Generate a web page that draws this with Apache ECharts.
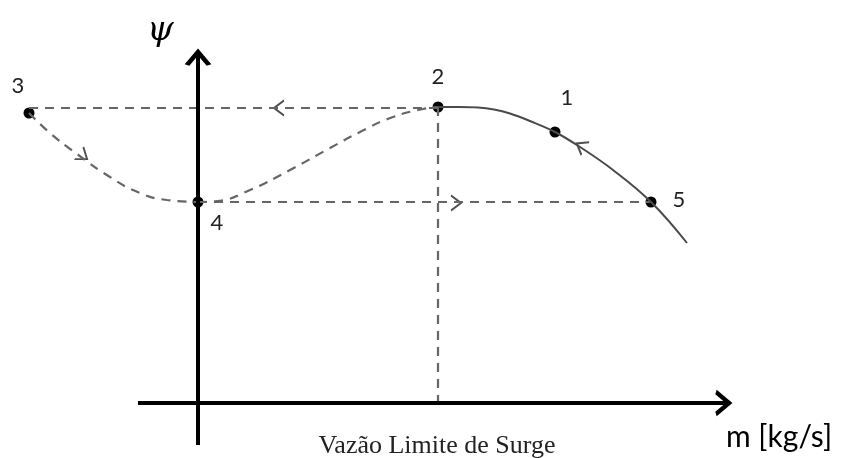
<!DOCTYPE html>
<html>
<head>
<meta charset="utf-8">
<script src="https://cdn.jsdelivr.net/npm/echarts@6/dist/echarts.min.js"></script>
<style>
  html, body { margin: 0; padding: 0; background: #fff; }
  #chart { width: 841px; height: 458px; }
</style>
</head>
<body>
<div id="chart"></div>
<script>
// Compressor surge cycle: operating points on the ψ–ṁ map
const pointNames = ['1', '2', '3', '4', '5'];
const pointFlow  = [35.7, 24.0, -16.9, 0.0, 45.3];
const pointHead  = [27.1, 29.6, 29.0, 20.1, 20.1];

// Compressor characteristic (solid curve) from 2 through 1 and 5
const charFlow = [24.0, 26.0, 28.0, 29.6, 31.2, 33.2, 35.7, 38.2, 41.5, 45.3, 48.9];
const charHead = [29.6, 29.6, 29.55, 29.35, 28.95, 28.2, 27.1, 25.6, 23.3, 20.1, 16.0];

// Transient path 3 → 4 (dashed)
const dropFlow = [-16.9, -14.8, -12.1, -8.8, -5.8, -3.1, 0.0];
const dropHead = [29.0, 27.0, 24.9, 22.6, 21.0, 20.3, 20.1];

// Recovery path 4 → 2 (dashed)
const riseFlow = [0.0, 1.9, 5.2, 9.2, 13.2, 16.2, 19.5, 22.5, 24.0];
const riseHead = [20.1, 20.2, 21.3, 23.3, 25.5, 27.1, 28.6, 29.4, 29.6];

// Jumps between levels: 2 → 3 at constant head, 4 → 5 at constant head
const upperJump = { from: -16.9, to: 24.0, head: 29.5 };
const lowerJump = { from: 0.0, to: 45.3, head: 20.1 };
const surgeFlow = 24.0;   // surge-limit flow (vertical dashed line)

// Axis extents
const xAxisFrom = -6.0, xAxisTo = 53.1;
const yAxisFrom = -4.2, yAxisTo = 35.1;

// Direction markers along the cycle: [flow, head, rotation°]
const arrowFlow = [8.1, 25.8, 38.3, -11.5];
const arrowHead = [29.5, 20.0, 25.7, 24.7];
const arrowRot  = [180, 0, 149, -36];

const zip = (xs, ys) => xs.map((x, i) => [x, ys[i]]);
const chevron = 'path://M0,0L10,5L0,10';

const dashGrey = { color: '#666666', width: 2.2, type: [9, 7] };
const labelFont = 'Lato, "Open Sans", sans-serif';

const labelOffsets = [[12, -34], [0, -30], [-11, -27], [19, 21], [28, -2]];

const chart = echarts.init(document.getElementById('chart'), null, { renderer: 'canvas' });

chart.setOption({
  animation: false,
  backgroundColor: '#ffffff',
  grid: { left: 0, right: 0, top: 0, bottom: 0 },
  xAxis: { type: 'value', min: -19.8, max: 64.3, show: false },
  yAxis: { type: 'value', min: -5.5, max: 40.3, show: false },
  series: [
    // dashed construction lines
    {
      type: 'line', symbol: 'none', silent: true,
      data: [[upperJump.from, upperJump.head], [upperJump.to, upperJump.head]],
      lineStyle: dashGrey
    },
    {
      type: 'line', symbol: 'none', silent: true,
      data: [[lowerJump.from, lowerJump.head], [lowerJump.to, lowerJump.head]],
      lineStyle: dashGrey
    },
    {
      type: 'line', symbol: 'none', silent: true,
      data: [[surgeFlow, pointHead[1]], [surgeFlow, 0]],
      lineStyle: dashGrey
    },
    {
      type: 'line', symbol: 'none', smooth: true, silent: true,
      data: zip(dropFlow, dropHead),
      lineStyle: dashGrey
    },
    {
      type: 'line', symbol: 'none', smooth: true, silent: true,
      data: zip(riseFlow, riseHead),
      lineStyle: dashGrey
    },
    // compressor characteristic
    {
      type: 'line', symbol: 'none', smooth: 0.4, silent: true,
      data: zip(charFlow, charHead),
      lineStyle: { color: '#4a4a4a', width: 2 }
    },
    // axes
    {
      type: 'line', symbol: 'none', silent: true,
      data: [[0, yAxisFrom], [0, yAxisTo]],
      lineStyle: { color: '#000', width: 4 }
    },
    {
      type: 'line', symbol: 'none', silent: true,
      data: [[xAxisFrom, 0], [xAxisTo, 0]],
      lineStyle: { color: '#000', width: 4 }
    },
    // axis arrowheads
    {
      type: 'scatter', silent: true,
      symbol: chevron,
      data: [
        { value: [0, yAxisTo - 0.65], symbolRotate: 90, symbolSize: [13, 22] },
        { value: [xAxisTo - 0.65, 0], symbolRotate: 0, symbolSize: [13, 22] }
      ],
      itemStyle: { color: 'transparent', borderColor: '#000', borderWidth: 4, opacity: 1 }
    },
    // direction arrows on the cycle
    {
      type: 'scatter', silent: true,
      symbol: chevron,
      data: arrowFlow.map((x, i) => ({
        value: [x, arrowHead[i]],
        symbolRotate: arrowRot[i],
        symbolSize: [10, 15]
      })),
      itemStyle: { color: 'transparent', borderColor: '#505050', borderWidth: 1.8, opacity: 1 }
    },
    // operating points with their numbers
    {
      type: 'scatter', silent: true,
      symbol: 'circle', symbolSize: 11,
      itemStyle: { color: '#000', opacity: 1 },
      data: pointFlow.map((x, i) => ({
        value: [x, pointHead[i]],
        name: pointNames[i],
        label: {
          show: true, position: 'inside',
          offset: labelOffsets[i],
          formatter: '{b}',
          color: '#222', fontSize: 22, fontFamily: labelFont
        }
      }))
    }
  ],
  graphic: [
    {
      type: 'text', left: 147, top: 14,
      style: { text: 'ψ', font: 'italic 34px "DejaVu Serif", serif', fill: '#000' }
    },
    {
      type: 'text', x: 726, y: 437,
      style: {
        text: 'm [kg/s]', fontSize: 30, fontFamily: labelFont,
        fill: '#000', textVerticalAlign: 'middle'
      }
    },
    {
      type: 'text', x: 437, y: 446,
      style: {
        text: 'Vazão Limite de Surge', fontSize: 26,
        fontFamily: '"Liberation Serif", "Times New Roman", serif',
        fill: '#222', textAlign: 'center', textVerticalAlign: 'middle'
      }
    }
  ]
});
</script>
</body>
</html>
